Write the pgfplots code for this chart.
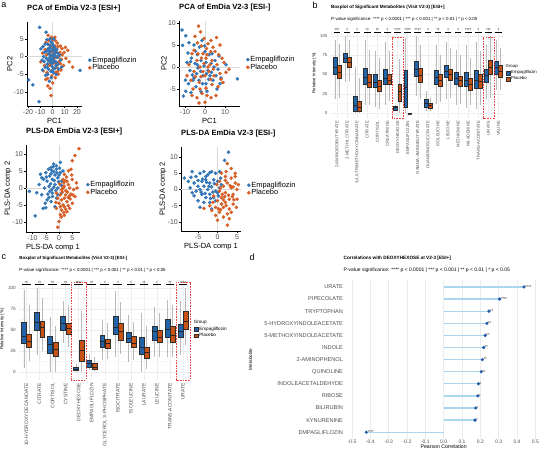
\documentclass[border=0pt]{standalone}
\usepackage{fontspec}
\setmainfont{Liberation Sans}
\usepackage{pgfplots}
\usepackage{pgfplotstable}
\pgfplotsset{compat=1.18}
\usepgfplotslibrary{statistics}
\pgfplotsset{/pgf/number format/assume math mode=true}

\definecolor{ptblue}{RGB}{52,118,182}
\definecolor{ptorange}{RGB}{214,96,40}
\definecolor{bxblue}{RGB}{33,100,170}
\definecolor{bxorange}{RGB}{200,82,20}
\definecolor{lollstem}{RGB}{170,214,240}
\definecolor{lolldot}{RGB}{30,88,168}
\definecolor{ticktext}{RGB}{77,77,77}
\definecolor{sigred}{RGB}{235,70,70}

\newcommand{\fs}[1]{\fontsize{#1}{#1}\selectfont}

% significance labels for the two boxplot panels
\pgfplotstableread{
x y s
1 105 ***
2 105 *
3 105 *
4 105 **
5 105 **
6 105 *
7 105 ****
8 105 ****
9 105 ****
10 105 *
11 105 **
12 105 *
13 105 *
14 105 ****
15 105 *
16 105 ***
17 105 *
}\sigb

\pgfplotstableread{
x y s
1 104 **
2 104 **
3 104 **
4 104 **
5 104 ****
6 104 **
7 104 *
8 104 *
9 104 *
10 104 **
11 104 *
12 104 **
13 104 ****
}\sigc

% correlations with deoxyhexose
\pgfplotstableread{
pos r s
13 0.438 ****
12 0.305 ****
11 0.247 **
10 0.236 **
9 0.227 **
8 0.218 **
7 0.211 **
6 0.205 **
5 0.190 *
4 0.187 *
3 0.175 *
2 0.171 *
1 -0.422 ****
}\corrd

% one prepared box: position, fill, lower whisker, Q1, median, Q3, upper whisker
\newcommand{\bx}[7]{%
  \addplot[forget plot, fill=#2, boxplot prepared={draw position=#1,
    lower whisker=#3, lower quartile=#4, median=#5,
    upper quartile=#6, upper whisker=#7}] coordinates {};}

\pgfplotsset{
  scat/.style={
    scale only axis, anchor=south west, enlargelimits=false,
    axis lines=left, axis line style={-, black, line width=0.5pt},
    tick align=outside, major tick length=2pt,
    tick style={black, line width=0.5pt},
    tick label style={font=\fs{7}, text=ticktext},
    xticklabel style={inner sep=1pt},
    yticklabel style={inner sep=1pt},
    label style={font=\fs{7.5}},
    xlabel style={inner sep=1pt},
    ylabel style={inner sep=1pt, yshift=-3pt},
    title style={at={(0,1)}, anchor=south west, font=\bfseries\fs{7.6}, inner sep=0pt, yshift=4pt},
    extra x ticks={0}, extra y ticks={0},
    extra x tick labels={}, extra y tick labels={},
    extra tick style={grid=major, major grid style={gray!30, line width=0.6pt}, major tick length=0pt},
    legend style={at={(1,0.5)}, anchor=west, xshift=6pt, draw=none, fill=none,
      font=\fs{7.4}, inner sep=0pt, row sep=-1.2pt, nodes={inner sep=1pt}},
    legend cell align=left,
    legend image code/.code={\draw[#1] plot coordinates {(1.5pt,0pt)};},
  },
  empS/.style={only marks, mark=*, mark size=1.6pt, mark options={draw=ptblue, fill=ptblue}, forget plot},
  plaS/.style={only marks, mark=*, mark size=1.6pt, mark options={draw=ptorange, fill=ptorange}, forget plot},
  bxp/.style={
    scale only axis, anchor=south west, enlargelimits=false, clip=false,
    axis line style={draw=none}, major tick length=0pt, minor tick length=0pt,
    tick style={draw=none},
    ytick={0,25,50,75,100}, minor ytick={12.5,37.5,62.5,87.5},
    xmajorgrids, ymajorgrids, yminorgrids,
    major grid style={gray!14, line width=0.45pt},
    minor grid style={gray!7, line width=0.3pt},
    xticklabel style={rotate=90, anchor=east, text=ticktext},
    yticklabel style={text=ticktext},
    boxplot/draw direction=y, boxplot/whisker extend=0, boxplot/box extend=0.38,
    boxplot/every whisker/.style={gray!55, line width=0.35pt},
    boxplot/every median/.style={draw=black!85, line width=0.5pt},
    boxplot/every box/.style={draw=gray!35!black, line width=0.3pt},
    title style={at={(0,1)}, anchor=south west, align=left, inner sep=0pt, yshift=0.5pt},
    legend cell align=left,
    legend image code/.code={\draw[#1] (0pt,-1.9pt) rectangle (3.8pt,1.9pt);},
    legend style={at={(1,0.5)}, anchor=west, draw=none, fill=none, inner sep=0pt,
      nodes={inner sep=0.8pt}},
  },
  sigbars/.style={only marks, mark=none, forget plot,
    nodes near coords, point meta=explicit symbolic,
    nodes near coords style={font=\fs{4}, anchor=south, inner sep=0.2pt, text=black},
    error bars/.cd, x dir=both, x fixed=0.33, error mark=none,
    error bar style={black, line width=0.45pt}},
}

\begin{document}
\begin{tikzpicture}
\useasboundingbox (0pt,0pt) rectangle (546pt,455pt);

\node[font=\fs{9}] at (4pt,450pt) {a};
\node[font=\fs{9}] at (315pt,450pt) {b};
\node[font=\fs{9}] at (4pt,198pt) {c};
\node[font=\fs{9}] at (252pt,198pt) {d};

% ---------- PCA, positive mode ----------
\begin{axis}[scat, at={(27pt,349pt)}, width=55pt, height=84pt,
  xmin=-20.8, xmax=24.1, ymin=-14, ymax=9.8,
  xtick={-20,-10,0,10,20}, ytick={-10,-5,0,5},
  title={PCA of EmDia V2-3 [ESI+]}, xlabel={PC1}, ylabel={PC2}]
\addplot[plaS] coordinates {(-3.5,6.0) (-1.0,5.5) (0.5,4.8) (2.5,4.5) (4.0,3.8) (-5.5,4.0) (6.5,3.0) (10.5,2.6) (12.5,1.8) (13.5,-1.5) (16.5,-3.0) (8.0,0.5) (5.5,-1.5) (9.0,-2.5) (7.0,-3.8) (4.8,-5.0) (2.2,-6.0) (-0.5,-5.5) (-2.0,-9.0) (-3.8,-8.3) (-1.2,-11.0) (-5.5,-6.5) (-7.5,-4.0) (-9.5,-1.5) (-8.0,1.0) (-4.0,2.0) (-1.5,0.5) (1.5,-0.5) (3.0,1.5) (0.0,2.8) (-2.5,-2.5) (0.8,-3.2) (3.5,-3.0) (6.0,1.2) (-6.5,-2.5) (2.0,3.0) (-3.0,4.5) (5.0,-0.2) (-0.8,-4.0) (4.2,-4.2) (7.8,2.2) (-5.0,0.5) (1.0,1.0) (2.8,-1.8) (-2.0,1.2) (11.0,-0.5) (0.2,-7.5) (-4.5,-4.5) (1.8,2.0) (-1.0,-2.0) (3.8,0.0) (-3.2,-1.2) (2.5,-4.5) (0.2,0.0) (-2.2,3.2) (6.5,-2.0) (9.5,1.2) (4.5,2.8) (-6.0,2.0) (1.2,-1.8) (-0.5,1.8) (7.2,-0.8) (-4.0,-6.2) (2.0,5.5)};
\addplot[empS] coordinates {(-10.5,8.3) (-5.2,6.9) (-4.6,4.8) (-7.8,2.8) (-9.5,2.2) (-6.5,1.2) (-3.8,3.5) (-2.1,2.4) (-1.0,4.1) (0.5,3.2) (1.8,2.6) (-0.8,1.5) (-3.0,0.8) (-5.0,-0.5) (-2.2,-0.3) (0.4,0.6) (2.5,1.1) (3.8,-0.2) (1.2,-1.2) (-1.5,-1.8) (-4.2,-2.1) (-6.8,-1.4) (-0.3,-2.8) (2.0,-3.3) (4.5,-2.2) (5.8,0.4) (-3.2,-3.6) (-5.6,-5.3) (-2.5,-7.0) (0.8,-4.6) (3.1,-5.1) (-8.2,-3.8) (-19.5,-6.6) (-16.0,-8.0) (-11.0,-12.8) (22.5,-3.9) (7.5,-3.0) (-1.0,-6.0) (-7.2,0.0) (1.0,2.0) (-2.8,1.6) (-0.5,-0.8) (2.8,-1.5) (-4.5,-3.0) (-1.8,3.0) (3.5,2.0) (0.0,-1.8) (-6.0,3.5) (6.5,-1.0) (-3.5,-1.0) (-1.5,0.2) (0.8,-0.3) (-2.8,-1.2) (1.5,1.8) (-0.2,3.8) (-3.5,2.2) (0.2,-3.8) (-1.2,-4.2) (2.2,0.2) (-4.8,1.5) (4.2,1.0) (-2.0,5.0) (1.0,5.0) (-6.0,-3.0) (3.0,-2.5) (-8.5,-1.0) (5.0,-3.5) (-0.8,-1.2) (0.5,2.2) (-3.8,-5.0)};
\addlegendimage{only marks, mark=*, mark size=1.6pt, ptblue}
\addlegendentry{Empagliflozin}
\addlegendimage{only marks, mark=*, mark size=1.6pt, ptorange}
\addlegendentry{Placebo}
\end{axis}

% ---------- PCA, negative mode ----------
\begin{axis}[scat, at={(179pt,349pt)}, width=61pt, height=85pt,
  xmin=-13, xmax=17.5, ymin=-8.86, ymax=10.45,
  xtick={-10,0,10}, ytick={-5,0,5,10},
  title={PCA of EmDia V2-3 [ESI-]}, xlabel={PC1}, ylabel={PC2}]
\addplot[empS] coordinates {(-11.5,8.4) (-9.6,7.1) (-11.2,4.9) (-8.5,3.2) (-6.8,2.0) (-9.0,1.0) (-7.5,-0.8) (-5.0,0.8) (-3.8,2.8) (-2.0,1.5) (-4.2,-1.5) (-6.0,-3.0) (-8.2,-3.8) (-9.6,-5.5) (-10.8,-6.6) (-7.0,-5.8) (-4.5,-4.5) (-2.0,-5.6) (0.5,-3.8) (-1.0,-2.0) (1.5,-0.8) (3.0,0.8) (5.0,1.5) (6.5,-0.5) (8.0,-2.5) (10.5,0.5) (16.2,-2.7) (4.0,-3.0) (2.0,2.8) (0.0,3.5) (-2.8,4.5) (-5.5,5.0) (-3.5,-0.2) (-0.5,0.2) (1.0,-5.5) (6.0,-5.0) (-6.3,-1.8) (3.5,3.0) (7.0,2.5) (-1.5,6.0) (0.5,1.0) (-4.8,3.6) (2.5,-2.0) (-8.0,5.5) (5.5,-2.0) (-3.0,-3.0) (-1.2,-3.8) (1.8,-2.8) (-7.2,1.2) (4.5,0.0) (-2.2,-1.0) (0.8,-1.5) (-5.5,-2.5) (3.2,-1.2) (-9.8,-3.0) (7.5,-3.8) (-0.2,4.8) (-3.8,0.5)};
\addplot[plaS] coordinates {(-3.2,9.3) (-2.2,8.0) (-0.5,6.5) (-5.0,7.0) (-3.8,5.5) (1.5,5.3) (5.8,6.7) (7.5,5.0) (4.0,4.5) (2.8,3.5) (-1.0,3.0) (-6.5,3.0) (-8.0,0.5) (-5.5,-1.0) (-2.5,0.0) (0.5,2.0) (3.5,1.5) (6.0,0.5) (8.5,2.0) (10.5,-1.2) (12.0,-0.5) (9.0,-3.5) (6.5,-4.5) (3.5,-4.0) (1.0,-6.5) (-1.5,-6.0) (-4.0,-7.0) (-2.8,-3.5) (0.0,-2.0) (-6.0,-5.0) (-9.0,-2.0) (2.0,-1.0) (4.5,-2.0) (-1.0,-1.0) (-4.0,1.5) (0.0,-8.0) (-3.0,-8.2) (1.5,0.0) (5.0,3.5) (-7.0,-3.0) (3.0,-7.0) (7.5,-1.5) (-1.8,2.0) (-5.5,3.8) (9.5,1.0) (0.8,4.2) (-0.5,0.8) (2.5,0.5) (-2.0,-2.2) (1.0,2.8) (4.2,-0.5) (-3.5,3.0) (6.8,2.8) (-1.8,4.8) (0.5,-4.8) (2.8,-2.8) (-4.8,-2.2) (8.0,-2.8) (-6.5,-6.5) (5.5,-6.5) (3.0,6.0) (-2.5,-5.0)};
\addlegendimage{only marks, mark=*, mark size=1.6pt, ptblue}
\addlegendentry{Empagliflozin}
\addlegendimage{only marks, mark=*, mark size=1.6pt, ptorange}
\addlegendentry{Placebo}
\end{axis}

% ---------- PLS-DA, positive mode ----------
\begin{axis}[scat, at={(26pt,223pt)}, width=54pt, height=87pt,
  xmin=-12.45, xmax=7.9, ymin=-12.9, ymax=12.6,
  xtick={-10,-5,0,5}, ytick={-10,-5,0,5,10},
  title={PLS-DA EmDia V2-3 [ESI+]}, xlabel={PLS-DA comp 1}, ylabel={PLS-DA comp 2}]
\addplot[empS] coordinates {(-11.2,-1.0) (-8.4,-1.4) (-9.0,-8.2) (-6.0,-6.0) (-5.0,-5.8) (-7.5,1.0) (-6.5,3.0) (-5.0,4.5) (-4.0,5.5) (-3.0,6.0) (-2.0,7.0) (-1.0,5.5) (0.5,7.5) (-4.5,2.0) (-3.5,3.5) (-2.5,2.5) (-1.5,3.8) (-0.5,3.0) (0.5,4.5) (1.0,2.0) (-5.5,0.0) (-3.8,0.5) (-2.8,-0.5) (-1.5,1.0) (-0.5,0.0) (0.8,0.8) (-4.2,-1.8) (-2.5,-2.5) (-1.0,-3.0) (-3.0,-4.0) (-1.5,-5.5) (-4.5,-3.5) (1.0,-1.5) (-6.5,-2.0) (-2.0,4.8) (-3.2,1.2) (-0.2,1.8) (-5.8,2.5) (1.5,5.0) (-1.2,-0.8) (-2.2,6.2) (0.2,5.8) (-3.8,-2.8) (-7.0,4.0) (-2.0,0.2) (-3.0,4.2) (-1.8,2.2) (-0.8,4.5) (-4.8,3.2) (-2.5,-1.5) (-0.5,-2.0) (-3.5,-1.0) (-1.0,6.5) (-5.2,-4.5) (0.0,3.8) (-2.8,5.2)};
\addplot[plaS] coordinates {(7.5,11.5) (6.0,9.5) (5.0,8.0) (4.5,5.5) (3.5,5.0) (2.0,4.0) (1.5,2.5) (3.0,2.0) (5.0,2.5) (6.5,1.5) (2.0,0.5) (4.0,0.0) (1.0,-0.5) (0.5,-2.0) (2.5,-2.0) (4.5,-1.8) (6.0,-2.5) (1.0,-3.5) (3.0,-4.0) (5.0,-4.5) (0.0,-4.5) (2.0,-5.5) (4.0,-6.0) (1.0,-6.5) (3.0,-7.0) (0.5,-7.8) (2.0,-8.0) (-1.0,-6.0) (-0.5,-3.0) (0.0,-9.8) (-0.5,-11.5) (5.5,-0.5) (3.5,-2.8) (1.8,1.5) (6.8,0.0) (0.2,1.2) (2.8,3.2) (4.2,-3.2) (-1.0,-1.5) (1.5,-5.0) (3.5,-5.2) (-1.2,-4.2) (4.8,3.8) (2.5,-0.8) (1.2,-1.2) (3.2,-1.2) (2.0,-3.0) (0.5,-5.5) (2.5,-6.2) (4.0,-2.2) (1.5,0.0) (3.5,1.0) (0.8,-8.5) (1.8,-7.2) (5.2,-2.0) (2.2,2.2)};
\addlegendimage{only marks, mark=*, mark size=1.6pt, ptblue}
\addlegendentry{Empagliflozin}
\addlegendimage{only marks, mark=*, mark size=1.6pt, ptorange}
\addlegendentry{Placebo}
\end{axis}

% ---------- PLS-DA, negative mode ----------
\begin{axis}[scat, at={(181pt,224pt)}, width=60pt, height=84pt,
  xmin=-9.36, xmax=6.0, ymin=-12.8, ymax=13.1,
  xtick={-5,0,5}, ytick={-10,-5,0,5,10},
  title={PLS-DA EmDia V2-3 [ESI-]}, xlabel={PLS-DA comp 1}, ylabel={PLS-DA comp 2}]
\addplot[empS] coordinates {(-8.5,3.5) (-6.5,5.5) (-5.5,4.0) (-4.5,5.0) (-3.5,5.5) (-2.5,4.5) (-1.5,5.5) (-0.5,5.0) (0.5,5.5) (2.8,11.5) (1.8,9.0) (-6.0,2.0) (-5.0,1.0) (-4.0,2.5) (-3.0,3.0) (-2.0,2.0) (-1.0,3.0) (0.0,2.5) (-7.0,0.5) (-5.5,-0.5) (-4.5,0.0) (-3.5,1.0) (-2.5,0.0) (-1.5,0.8) (-0.5,-0.5) (0.5,0.5) (-6.0,-2.0) (-4.0,-1.5) (-3.0,-2.5) (-2.0,-1.5) (-1.0,-2.5) (0.0,-1.0) (-5.0,-3.5) (-3.5,-4.0) (-2.0,-4.0) (-0.5,-3.5) (-4.5,-5.5) (-1.5,-6.0) (1.0,-4.5) (-6.5,-1.0) (-3.0,4.0) (1.0,1.5) (-7.5,2.5) (0.2,-2.0) (-3.8,3.2) (-2.2,1.0) (-4.2,-0.8) (-1.2,-0.8) (-2.8,2.2) (-0.8,1.8) (-5.0,2.8) (-1.8,-2.8) (-3.2,-1.2) (-6.8,3.8) (-2.0,5.2) (0.8,3.5)};
\addplot[plaS] coordinates {(2.5,8.0) (3.5,6.5) (1.0,5.0) (4.5,5.0) (2.0,4.0) (3.5,3.5) (0.5,2.5) (2.5,2.0) (4.5,2.0) (1.5,1.0) (3.5,0.5) (5.0,0.0) (0.5,-0.5) (2.0,-1.0) (4.0,-1.5) (1.0,-2.5) (3.0,-3.0) (5.0,-3.0) (0.0,-3.5) (2.0,-4.0) (4.0,-4.5) (-0.5,-5.5) (1.5,-5.5) (3.0,-6.0) (-1.5,-6.5) (0.5,-7.0) (2.5,-7.5) (-0.5,-8.0) (1.5,-8.5) (0.0,-9.5) (2.5,-11.0) (-2.0,-5.0) (-1.0,-2.0) (3.0,-9.0) (4.5,4.0) (-0.2,1.5) (1.8,-2.2) (3.8,-2.2) (0.8,-6.2) (2.2,5.5) (4.8,-5.5) (-1.2,-4.0) (-3.5,-5.8) (5.3,1.5) (1.2,-1.5) (2.8,-1.8) (1.5,-3.2) (3.2,1.2) (0.8,0.5) (2.2,-5.0) (4.2,-3.2) (1.0,-4.5) (2.0,2.8) (3.5,-7.0) (0.2,-6.0) (4.0,0.8)};
\addlegendimage{only marks, mark=*, mark size=1.6pt, ptblue}
\addlegendentry{Empagliflozin}
\addlegendimage{only marks, mark=*, mark size=1.6pt, ptorange}
\addlegendentry{Placebo}
\end{axis}

% ---------- b: boxplots, positive mode ----------
\begin{axis}[bxp, at={(330.9pt,337.4pt)}, width=173.7pt, height=89.3pt,
  xmin=0.4, xmax=17.6, ymin=-6, ymax=110,
  xtick={1,...,17},
  xticklabels={2-AMINOISOBUTYRATE, 2-METHYLCITRATE, {3,4,5-TRIMETHOXYCINNAMATE}, CITRATE, CORTISOL, CREATININE, DEOXYHEXOSE, EMPAGLIFLOZIN, GAMMA-AMINOBUTYRATE, GUANIDINOSUCCINATE, ISOLEUCINE, LEUCINE, METHIONINE, N6-ADENINE, TRANS-ACONITATE, URATE, VALINE},
  xticklabel style={font=\fs{4.2}},
  yticklabel style={font=\fs{4.3}},
  ylabel={Relative Intensity (\%)}, ylabel style={font=\fs{4.3}, yshift=-3pt},
  legend style={font=\fs{4.3}, xshift=1.5pt},
  title={\fontsize{4.6}{8}\selectfont\bfseries Boxplot of Significant Metabolites (Visit V2-3) [ESI+]\\\fontsize{4.4}{8}\selectfont\mdseries P-value significance: **** p < 0.0001 | *** p < 0.001 | ** p < 0.01 | * p < 0.05}]
\bx{0.8}{bxblue}{18}{50}{60}{72}{95}
\bx{1.2}{bxorange}{20}{45}{53}{62}{90}
\bx{1.8}{bxblue}{40}{66}{71}{78}{100}
\bx{2.2}{bxorange}{42}{60}{66}{72}{95}
\bx{2.8}{bxblue}{0}{3}{10}{22}{60}
\bx{3.2}{bxorange}{0}{3}{8}{15}{45}
\bx{3.8}{bxblue}{10}{37}{46}{58}{95}
\bx{4.2}{bxorange}{10}{33}{40}{50}{82}
\bx{4.8}{bxblue}{8}{33}{40}{50}{80}
\bx{5.2}{bxorange}{5}{28}{35}{43}{72}
\bx{5.8}{bxblue}{10}{37}{45}{57}{92}
\bx{6.2}{bxorange}{15}{37}{43}{50}{80}
\bx{6.8}{bxblue}{3}{4}{7}{9}{10}
\bx{7.2}{bxorange}{0}{15}{28}{38}{70}
\bx{7.8}{bxblue}{0}{8}{34}{55}{98}
\bx{8.2}{bxorange}{-1}{-1}{-1}{-1}{-1}
\bx{8.8}{bxblue}{22}{48}{57}{67}{100}
\bx{9.2}{bxorange}{18}{40}{49}{58}{88}
\bx{9.8}{bxblue}{2}{8}{12}{18}{28}
\bx{10.2}{bxorange}{3}{6}{10}{13}{20}
\bx{10.8}{bxblue}{12}{38}{47}{55}{88}
\bx{11.2}{bxorange}{14}{35}{43}{50}{75}
\bx{11.8}{bxblue}{18}{46}{54}{62}{92}
\bx{12.2}{bxorange}{20}{42}{50}{57}{85}
\bx{12.8}{bxblue}{10}{38}{45}{53}{82}
\bx{13.2}{bxorange}{12}{35}{42}{48}{75}
\bx{13.8}{bxblue}{6}{35}{43}{53}{88}
\bx{14.2}{bxorange}{10}{30}{37}{45}{72}
\bx{14.8}{bxblue}{5}{32}{43}{55}{92}
\bx{15.2}{bxorange}{10}{32}{41}{50}{80}
\bx{15.8}{bxblue}{18}{40}{49}{57}{88}
\bx{16.2}{bxorange}{20}{50}{59}{68}{100}
\bx{16.8}{bxblue}{30}{51}{59}{67}{95}
\bx{17.2}{bxorange}{30}{46}{54}{62}{85}
\addplot[sigbars] table[x=x, y=y, meta=s] {\sigb};
\draw[sigred, line width=0.5pt, dash pattern=on 1.6pt off 1.1pt] (axis cs:6.47,-6.5) rectangle (axis cs:7.53,99);
\draw[sigred, line width=0.5pt, dash pattern=on 1.6pt off 1.1pt] (axis cs:15.47,-6.5) rectangle (axis cs:16.53,99);
\addlegendimage{empty legend}
\addlegendentry{\hspace{-5.5pt}Group}
\addlegendimage{fill=bxblue, draw=gray!35!black, line width=0.3pt}
\addlegendentry{Empagliflozin}
\addlegendimage{fill=bxorange, draw=gray!35!black, line width=0.3pt}
\addlegendentry{Placebo}
\end{axis}

% ---------- c: boxplots, negative mode ----------
\begin{axis}[bxp, at={(19.3pt,75.4pt)}, width=170.9pt, height=100.8pt,
  xmin=0.45, xmax=13.55, ymin=-9, ymax=111,
  xtick={1,...,13},
  xticklabels={10-HYDROXYDECANOATE, CITRATE, CORTISOL, CYSTINE, DEOXYHEXOSE, EMPAGLIFLOZIN, GLYCEROL 3-PHOSPHATE, ISOCITRATE, ISOLEUCINE, LAURATE, LEUCINE, TRANS-ACONITATE, URATE},
  xticklabel style={font=\fs{5}},
  yticklabel style={font=\fs{4.6}},
  ylabel={Relative Intensity (\%)}, ylabel style={font=\fs{4.4}, yshift=-3pt},
  legend style={font=\fs{4.6}, xshift=4pt},
  title={\fontsize{4.4}{8}\selectfont\bfseries Boxplot of Significant Metabolites (Visit V2-3) [ESI-]\\\fontsize{4.4}{8}\selectfont\mdseries P-value significance: **** p < 0.0001 | *** p < 0.001 | ** p < 0.01 | * p < 0.05}]
\bx{0.8}{bxblue}{5}{34}{43}{59}{98}
\bx{1.2}{bxorange}{13}{30}{37}{45}{80}
\bx{1.8}{bxblue}{20}{50}{59}{71}{100}
\bx{2.2}{bxorange}{25}{41}{53}{61}{88}
\bx{2.8}{bxblue}{0}{23}{33}{43}{65}
\bx{3.2}{bxorange}{0}{19}{27}{35}{55}
\bx{3.8}{bxblue}{35}{50}{58}{67}{85}
\bx{4.2}{bxorange}{30}{45}{52}{58}{80}
\bx{4.8}{bxblue}{0}{2}{3}{6}{9}
\bx{5.2}{bxorange}{0}{13}{26}{38}{73}
\bx{5.8}{bxblue}{3}{6}{10}{14}{22}
\bx{6.2}{bxorange}{1}{3}{6}{10}{18}
\bx{6.8}{bxblue}{14}{30}{37}{44}{62}
\bx{7.2}{bxorange}{16}{28}{34}{39}{58}
\bx{7.8}{bxblue}{18}{45}{53}{66}{97}
\bx{8.2}{bxorange}{22}{38}{49}{58}{83}
\bx{8.8}{bxblue}{12}{35}{40}{47}{68}
\bx{9.2}{bxorange}{14}{30}{34}{43}{60}
\bx{9.8}{bxblue}{0}{21}{30}{41}{70}
\bx{10.2}{bxorange}{4}{17}{24}{30}{55}
\bx{10.8}{bxblue}{18}{38}{48}{55}{78}
\bx{11.2}{bxorange}{18}{35}{42}{50}{70}
\bx{11.8}{bxblue}{18}{42}{51}{63}{86}
\bx{12.2}{bxorange}{18}{36}{44}{55}{80}
\bx{12.8}{bxblue}{20}{41}{48}{57}{85}
\bx{13.2}{bxorange}{32}{51}{60}{72}{100}
\addplot[sigbars] table[x=x, y=y, meta=s] {\sigc};
\draw[sigred, line width=0.5pt, dash pattern=on 1.6pt off 1.1pt] (axis cs:4.45,-9.5) rectangle (axis cs:5.55,107);
\draw[sigred, line width=0.5pt, dash pattern=on 1.6pt off 1.1pt] (axis cs:12.45,-9.5) rectangle (axis cs:13.55,107);
\addlegendimage{empty legend}
\addlegendentry{\hspace{-5.5pt}Group}
\addlegendimage{fill=bxblue, draw=gray!35!black, line width=0.3pt}
\addlegendentry{Empagliflozin}
\addlegendimage{fill=bxorange, draw=gray!35!black, line width=0.3pt}
\addlegendentry{Placebo}
\end{axis}

% ---------- d: correlations with deoxyhexose ----------
\begin{axis}[scale only axis, anchor=south west, at={(346.5pt,15.5pt)},
  width=194.3pt, height=159.8pt, clip=false,
  xmin=-0.53, xmax=0.53, ymin=0.4, ymax=13.6,
  axis line style={draw=none}, tick style={draw=none}, major tick length=0pt,
  xtick={-0.5,-0.4,-0.3,-0.2,-0.1,0,0.1,0.2,0.3,0.4,0.5},
  xmajorgrids, major grid style={gray!15, line width=0.45pt},
  ytick={1,...,13},
  yticklabels={EMPAGLIFLOZIN, KYNURENINE, BILIRUBIN, RIBOSE, INDOLEACETALDEHYDE, QUINOLINE, 2-AMINOPHENOL, INDOLE, 5-METHOXYINDOLEACETATE, 5-HYDROXYINDOLEACETATE, TRYPTOPHAN, PIPECOLATE, URATE},
  tick label style={text=ticktext},
  xticklabel style={font=\fs{5}, inner sep=0.8pt, /pgf/number format/.cd, fixed, fixed zerofill, precision=1},
  yticklabel style={font=\fs{5.6}},
  xlabel={Pearson Correlation}, xlabel style={font=\fs{5.2}, inner sep=0.5pt, yshift=0.5pt},
  ylabel={Metabolite}, ylabel style={font=\fs{4.6}, at={(axis description cs:0,0.5)}, yshift=96pt, anchor=center},
  title={\fontsize{4.7}{8}\selectfont\bfseries Correlations with DEOXYHEXOSE at V2-3 [ESI+]\\\fontsize{5}{8}\selectfont\mdseries P-value significance: **** p < 0.0001 | *** p < 0.001 | ** p < 0.01 | * p < 0.05},
  title style={at={(0,1)}, anchor=south west, align=left, inner sep=0pt, xshift=-3pt, yshift=0.5pt}]
\addplot[xcomb, draw=lollstem, line width=1.3pt, forget plot] table[x=r, y=pos] {\corrd};
\addplot[only marks, mark=*, mark size=1.4pt, lolldot, forget plot,
  nodes near coords, point meta=explicit symbolic,
  nodes near coords style={font=\fs{4}, anchor=west, inner sep=1pt, text=black}]
  table[x=r, y=pos, meta=s] {\corrd};
\end{axis}
\end{tikzpicture}
\end{document}
